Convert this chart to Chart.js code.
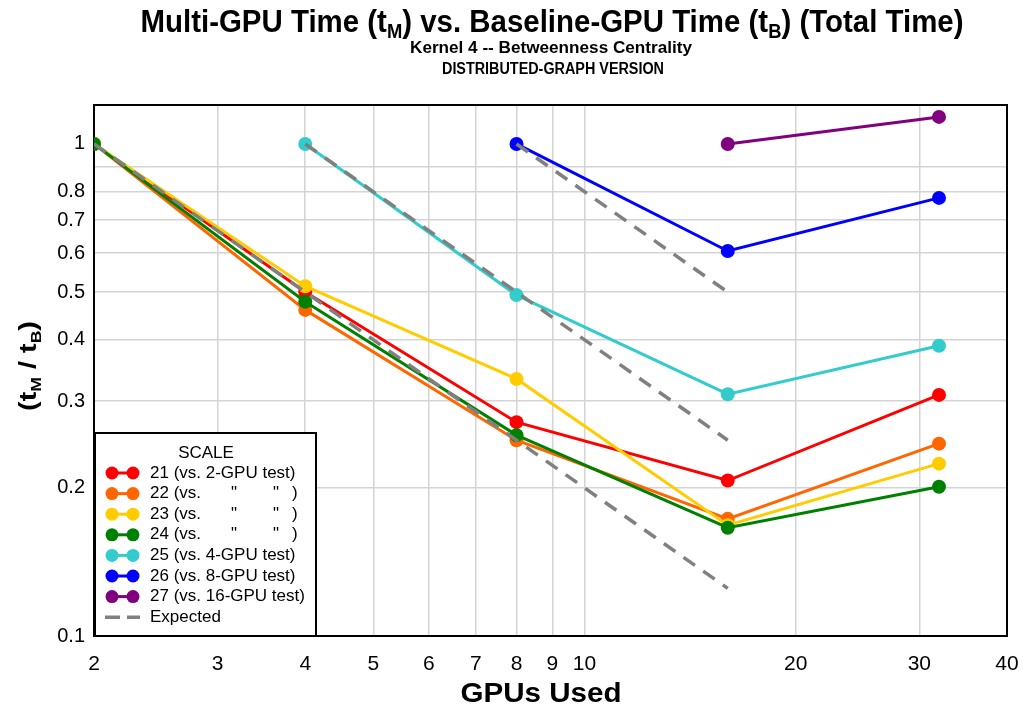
<!DOCTYPE html>
<html>
<head>
<meta charset="utf-8">
<script src="https://cdn.jsdelivr.net/npm/chart.js@4/dist/chart.umd.min.js"></script>
<style>
  body { margin: 0; background: #fff; }
  #wrap { width: 1028px; height: 711px; }
</style>
</head>
<body>
<div id="wrap"><canvas id="chart" width="1028" height="711"></canvas></div>
<script>
// GPU counts on the x axis
const gpus = [2, 4, 8, 16, 32];

// t_M / t_B ratios (null = no run)
const scale21 = [1, 0.50, 0.272, 0.207, 0.309];
const scale22 = [1, 0.46, 0.250, 0.173, 0.246];
const scale23 = [1, 0.514, 0.333, 0.168, 0.224];
const scale24 = [1, 0.478, 0.256, 0.166, 0.201];
const scale25 = [null, 1, 0.493, 0.310, 0.389];
const scale26 = [null, null, 1, 0.606, 0.777];
const scale27 = [null, null, null, 1, 1.135];

// ideal scaling from each baseline
const expected2 = [1, 0.5, 0.25, 0.125, null];
const expected4 = [null, 1, 0.5, 0.25, null];
const expected8 = [null, null, 1, 0.5, null];

const xTicks = [2, 3, 4, 5, 6, 7, 8, 9, 10, 20, 30, 40];
const yTicks = [0.1, 0.2, 0.3, 0.4, 0.5, 0.6, 0.7, 0.8, 0.9, 1];

const legendLabels = [
    '21 (vs. 2-GPU test)',
    '22 (vs.',
    '23 (vs.',
    '24 (vs.',
    '25 (vs. 4-GPU test)',
    '26 (vs. 8-GPU test)',
    '27 (vs. 16-GPU test)'
];

const FONT = '"Liberation Sans", Arial, sans-serif';

const toPoints = vals => gpus.map((g, i) => ({ x: g, y: vals[i] })).filter(p => p.y !== null);

function series(label, vals, color, order) {
    return {
        label: label,
        data: toPoints(vals),
        borderColor: color,
        backgroundColor: color,
        borderWidth: 3,
        pointRadius: 7,
        pointBorderWidth: 0,
        pointBackgroundColor: color,
        order: order
    };
}

function expectedLine(vals) {
    return {
        label: 'Expected',
        data: toPoints(vals),
        borderColor: '#808080',
        borderWidth: 3.5,
        borderDash: [14, 10],
        pointRadius: 0,
        order: 0
    };
}

const colors = ['#ff0000', '#ff6600', '#ffcc00', '#008000', '#33cccc', '#0000ff', '#800080'];
const allSeries = [scale21, scale22, scale23, scale24, scale25, scale26, scale27];

const datasets = allSeries.map((vals, i) => series(legendLabels[i], vals, colors[i], 10 - i));
datasets.push(expectedLine(expected2), expectedLine(expected4), expectedLine(expected8));

// Draws text pieces (some subscripted) squeezed to a target width
function drawRich(ctx, pieces, cx, y, width, size) {
    const mainFont = `bold ${size}px ${FONT}`;
    const subFont = `bold ${Math.round(size * 0.62)}px ${FONT}`;
    let total = 0;
    pieces.forEach(p => {
        ctx.font = p.sub ? subFont : mainFont;
        p.w = ctx.measureText(p.t).width;
        total += p.w;
    });
    const sx = width / total;
    ctx.save();
    ctx.translate(cx - width / 2, y);
    ctx.scale(sx, 1);
    ctx.textBaseline = 'alphabetic';
    ctx.textAlign = 'left';
    ctx.fillStyle = '#000';
    let x = 0;
    pieces.forEach(p => {
        ctx.font = p.sub ? subFont : mainFont;
        ctx.fillText(p.t, x, p.sub ? size * 0.2 : 0);
        x += p.w;
    });
    ctx.restore();
}

const framePlugin = {
    id: 'frame',
    beforeDatasetsDraw(chart) {
        const { ctx, chartArea: a } = chart;
        ctx.save();
        ctx.strokeStyle = '#000';
        ctx.lineWidth = 2;
        ctx.strokeRect(a.left, a.top, a.right - a.left, a.bottom - a.top);
        ctx.restore();
    },
    afterDraw(chart) {
        const { ctx } = chart;

        // titles
        drawRich(ctx, [
            { t: 'Multi-GPU Time (t' }, { t: 'M', sub: true },
            { t: ') vs. Baseline-GPU Time (t' }, { t: 'B', sub: true },
            { t: ') (Total Time)' }
        ], 552, 32, 823, 32);
        drawRich(ctx, [{ t: 'Kernel 4 -- Betweenness Centrality' }], 551, 53, 282, 16);
        drawRich(ctx, [{ t: 'DISTRIBUTED-GRAPH VERSION' }], 553, 74, 222, 16);
        drawRich(ctx, [{ t: 'GPUs Used' }], 541, 702, 161, 27);

        ctx.save();
        ctx.translate(36, 366);
        ctx.rotate(-Math.PI / 2);
        drawRich(ctx, [
            { t: '(t' }, { t: 'M', sub: true }, { t: ' / t' }, { t: 'B', sub: true }, { t: ')' }
        ], 0, 0, 90, 23);
        ctx.restore();

        // legend box
        const lx = 95, ly = 433, lw = 221, lh = 203;
        ctx.save();
        ctx.fillStyle = '#fff';
        ctx.fillRect(lx, ly, lw, lh);
        ctx.strokeStyle = '#000';
        ctx.lineWidth = 2;
        ctx.strokeRect(lx, ly, lw, lh);

        ctx.fillStyle = '#000';
        ctx.font = `17px ${FONT}`;
        ctx.textBaseline = 'middle';
        ctx.textAlign = 'center';
        ctx.fillText('SCALE', 206, 453);

        ctx.textAlign = 'left';
        const rowY = i => 473 + i * 20.6;
        for (let i = 0; i < 7; i++) {
            const y = rowY(i);
            const c = chart.data.datasets[i].borderColor;
            ctx.strokeStyle = c;
            ctx.fillStyle = c;
            ctx.lineWidth = 3;
            ctx.beginPath();
            ctx.moveTo(112, y);
            ctx.lineTo(133, y);
            ctx.stroke();
            [112, 133].forEach(px => {
                ctx.beginPath();
                ctx.arc(px, y, 6.5, 0, Math.PI * 2);
                ctx.fill();
            });
            ctx.fillStyle = '#000';
            ctx.fillText(legendLabels[i], 150, y);
            if (i >= 1 && i <= 3) {
                ctx.fillText('"', 231, y);
                ctx.fillText('"', 273, y);
                ctx.fillText(')', 292, y);
            }
        }
        const ey = rowY(7);
        ctx.strokeStyle = '#808080';
        ctx.lineWidth = 3.5;
        ctx.beginPath();
        ctx.moveTo(105, ey); ctx.lineTo(120, ey);
        ctx.moveTo(127, ey); ctx.lineTo(140, ey);
        ctx.stroke();
        ctx.fillStyle = '#000';
        ctx.fillText('Expected', 150, ey);
        ctx.restore();
    }
};

const gridColor = hidden => ctx => (ctx.tick && hidden.includes(ctx.tick.value)) ? 'rgba(0,0,0,0)' : '#d4d4d4';

new Chart(document.getElementById('chart').getContext('2d'), {
    type: 'line',
    data: { datasets: datasets },
    options: {
        responsive: false,
        animation: false,
        layout: { padding: { top: 105, right: 21, left: 0, bottom: 0 } },
        plugins: {
            legend: { display: false },
            title: { display: false },
            tooltip: { enabled: false }
        },
        scales: {
            x: {
                type: 'logarithmic',
                min: 2,
                max: 40,
                afterBuildTicks: scale => { scale.ticks = xTicks.map(v => ({ value: v })); },
                afterFit: scale => {
                    scale.height = 75;
                    scale.paddingLeft = 0;
                    scale.paddingRight = 0;
                },
                ticks: {
                    autoSkip: false,
                    maxRotation: 0,
                    padding: 16,
                    color: '#000',
                    font: { family: FONT, size: 21 },
                    callback: v => String(v)
                },
                grid: { drawTicks: false, lineWidth: 1.5, color: gridColor([2, 40]) },
                border: { display: false }
            },
            y: {
                type: 'logarithmic',
                min: 0.1,
                max: 1.2,
                afterBuildTicks: scale => { scale.ticks = yTicks.map(v => ({ value: v })); },
                afterFit: scale => {
                    scale.width = 94;
                    scale.paddingTop = 0;
                    scale.paddingBottom = 0;
                },
                ticks: {
                    autoSkip: false,
                    padding: 9,
                    color: '#000',
                    font: { family: FONT, size: 20 },
                    callback: v => (v === 0.9 ? '' : String(v))
                },
                grid: { drawTicks: false, lineWidth: 1.5, color: gridColor([0.1, 1]) },
                border: { display: false }
            }
        }
    },
    plugins: [framePlugin]
});
</script>
</body>
</html>
